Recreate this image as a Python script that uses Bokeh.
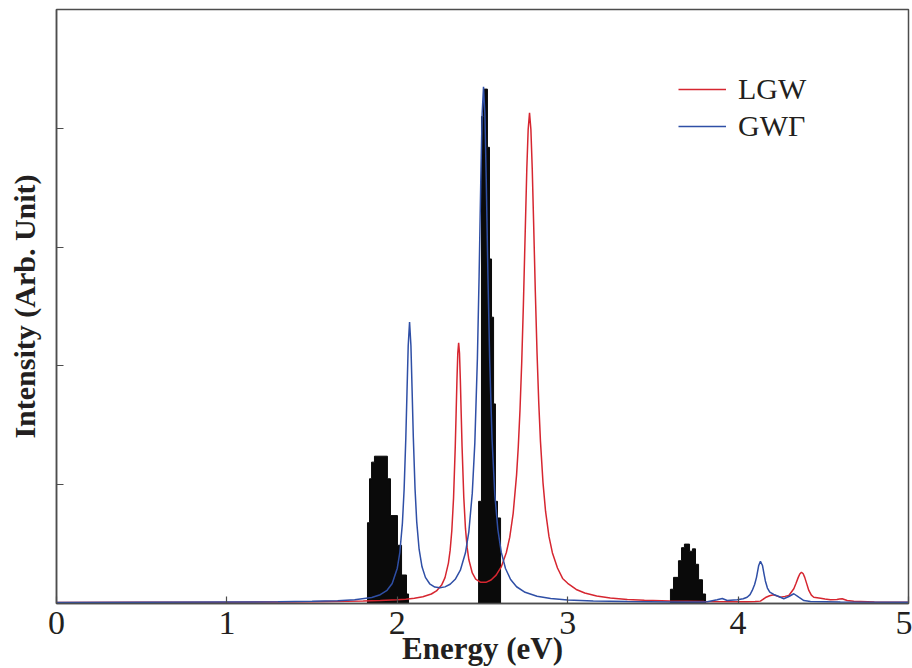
from bokeh.plotting import figure
from bokeh.models import FixedTicker, Range1d, Legend, LegendItem
from bokeh.embed import file_html
from bokeh.resources import INLINE

# ---------------- data ----------------
x_ticks = [0, 1, 2, 3, 4, 5]
y_ticks = [1, 2, 3, 4]
series_labels = ["LGW", "GWΓ"]

# LGW curve (energy eV, intensity arb. unit)
lgw_energy = [0.0, 0.5, 1.0, 1.3, 1.5, 1.7, 1.8, 1.9, 2.0, 2.05, 2.1, 2.15, 2.2, 2.23, 2.26,
              2.28, 2.3, 2.31, 2.32, 2.33, 2.34, 2.345, 2.35, 2.355, 2.36, 2.365, 2.37,
              2.375, 2.38, 2.39, 2.40, 2.41, 2.42, 2.44, 2.46, 2.49, 2.52, 2.55, 2.58, 2.61,
              2.64, 2.66, 2.68, 2.70, 2.71, 2.72, 2.73, 2.74, 2.75, 2.76, 2.768, 2.776,
              2.784, 2.792, 2.80, 2.81, 2.82, 2.83, 2.84, 2.855, 2.87, 2.89, 2.91, 2.94,
              2.97, 3.0, 3.05, 3.1, 3.17, 3.25, 3.35, 3.45, 3.6, 3.8, 4.0, 4.05, 4.10,
              4.131, 4.161, 4.185, 4.209, 4.23, 4.249, 4.275, 4.298, 4.327, 4.34, 4.353,
              4.362, 4.372, 4.382, 4.391, 4.403, 4.415, 4.43, 4.444, 4.484, 4.51, 4.542,
              4.58, 4.595, 4.611, 4.64, 4.679, 4.8, 5.0]
lgw_intensity = [0.009, 0.010, 0.011, 0.013, 0.015, 0.018, 0.021, 0.025, 0.031, 0.036, 0.044,
                 0.057, 0.080, 0.106, 0.155, 0.218, 0.340, 0.447, 0.614, 0.885, 1.314,
                 1.591, 1.877, 2.106, 2.195, 2.108, 1.882, 1.598, 1.323, 0.898, 0.632, 0.470,
                 0.368, 0.257, 0.206, 0.178, 0.178, 0.198, 0.239, 0.308, 0.429, 0.558, 0.759,
                 1.083, 1.319, 1.627, 2.022, 2.517, 3.090, 3.656, 3.990, 4.130, 3.990, 3.655,
                 3.206, 2.624, 2.110, 1.694, 1.369, 1.018, 0.777, 0.565, 0.428, 0.299, 0.211,
                 0.170, 0.118, 0.088, 0.063, 0.046, 0.034, 0.027, 0.021, 0.0165, 0.014,
                 0.014, 0.016, 0.020, 0.050, 0.065, 0.073, 0.062, 0.053, 0.060, 0.067, 0.124,
                 0.170, 0.220, 0.248, 0.263, 0.250, 0.220, 0.165, 0.110, 0.070, 0.053, 0.045,
                 0.038, 0.031, 0.033, 0.038, 0.040, 0.025, 0.019, 0.013, 0.011]

# GWΓ curve
gwg_energy = [0.0, 0.5, 1.0, 1.3, 1.5, 1.65, 1.75, 1.85, 1.9, 1.94, 1.97, 2.0, 2.015, 2.03,
              2.04, 2.05, 2.057, 2.064, 2.072, 2.08, 2.087, 2.094, 2.104, 2.114, 2.128,
              2.145, 2.165, 2.19, 2.22, 2.25, 2.28, 2.31, 2.34, 2.37, 2.4, 2.42, 2.44,
              2.455, 2.47, 2.48, 2.49, 2.498, 2.506, 2.514, 2.522, 2.532, 2.542, 2.556,
              2.572, 2.59, 2.61, 2.635, 2.665, 2.70, 2.75, 2.82, 2.9, 3.0, 3.15, 3.35, 3.6,
              3.8, 3.819, 3.877, 3.907, 3.936, 3.995, 4.03, 4.053, 4.07, 4.083, 4.097,
              4.108, 4.121, 4.131, 4.143, 4.152, 4.160, 4.172, 4.186, 4.209, 4.239, 4.268,
              4.298, 4.327, 4.356, 4.386, 4.425, 4.6, 5.0]
gwg_intensity = [0.009, 0.010, 0.012, 0.014, 0.018, 0.024, 0.032, 0.051, 0.074, 0.111, 0.168,
                 0.297, 0.431, 0.677, 0.960, 1.393, 1.785, 2.167, 2.370, 2.169, 1.789, 1.399,
                 0.968, 0.687, 0.457, 0.309, 0.220, 0.166, 0.138, 0.132, 0.140, 0.162, 0.204,
                 0.280, 0.427, 0.606, 0.929, 1.352, 2.061, 2.752, 3.565, 4.124, 4.350, 4.123,
                 3.564, 2.750, 2.058, 1.385, 0.923, 0.624, 0.432, 0.295, 0.202, 0.141, 0.094,
                 0.061, 0.042, 0.030, 0.021, 0.016, 0.013, 0.012, 0.015, 0.031, 0.042, 0.025,
                 0.031, 0.040, 0.053, 0.075, 0.110, 0.160, 0.220, 0.320, 0.356, 0.320, 0.250,
                 0.190, 0.130, 0.095, 0.076, 0.059, 0.040, 0.059, 0.082, 0.053, 0.025, 0.017,
                 0.012, 0.010]

# experimental (black) spectra as stepped bins: bin edges (eV) and heights
exp1_edges = [1.825, 1.837, 1.849, 1.866, 1.942, 1.960, 2.001, 2.025, 2.054, 2.066]
exp1_heights = [0.68, 1.05, 1.19, 1.24, 1.05, 0.74, 0.49, 0.24, 0.08]

exp2_edges = [2.477, 2.494, 2.506, 2.529, 2.541, 2.553, 2.565, 2.576, 2.588, 2.606]
exp2_heights = [0.86, 4.10, 4.33, 3.84, 2.90, 2.41, 1.68, 0.86, 0.72]

exp3_edges = [3.603, 3.621, 3.650, 3.668, 3.685, 3.715, 3.732, 3.750, 3.768, 3.791, 3.809]
exp3_heights = [0.12, 0.22, 0.36, 0.47, 0.50, 0.44, 0.46, 0.33, 0.20, 0.08]

# ---------------- figure ----------------
RED = "#d62630"
BLUE = "#2f4fa6"
TXT = "#231f20"
FRAME = "#4d4d4d"
SERIF = "Liberation Serif"

p = figure(width=912, height=668, output_backend="svg", toolbar_location=None,
           x_range=Range1d(0, 5), y_range=Range1d(0, 5),
           min_border_left=56, min_border_right=4, min_border_top=9, min_border_bottom=65)
p.grid.visible = False
p.background_fill_color = "white"
p.border_fill_color = "white"
p.outline_line_color = FRAME
p.outline_line_width = 1.5


def step_outline(edges, heights):
    xs, ys = [edges[0]], [0]
    for i, h in enumerate(heights):
        xs += [edges[i], edges[i + 1]]
        ys += [h, h]
    xs.append(edges[-1])
    ys.append(0)
    return xs, ys


for edges, heights in [(exp1_edges, exp1_heights), (exp2_edges, exp2_heights),
                       (exp3_edges, exp3_heights)]:
    sx, sy = step_outline(edges, heights)
    p.patch(sx, sy, fill_color="#0a0a0a", line_color="#0a0a0a", line_width=1)

r_red = p.line(lgw_energy, lgw_intensity, line_color=RED, line_width=1.5)
r_blue = p.line(gwg_energy, gwg_intensity, line_color=BLUE, line_width=1.5)

# axes
for ax in (p.xaxis[0], p.yaxis[0]):
    ax.axis_line_color = FRAME
    ax.axis_line_width = 1.5
    ax.major_tick_line_color = FRAME
    ax.major_tick_line_width = 1.2
    ax.major_tick_in = 7
    ax.major_tick_out = 0
    ax.minor_tick_line_color = None
    ax.axis_label_text_font = SERIF
    ax.axis_label_text_font_style = "bold"
    ax.axis_label_text_color = TXT
    ax.major_label_text_font = SERIF
    ax.major_label_text_color = TXT

p.xaxis.ticker = FixedTicker(ticks=x_ticks)
p.xaxis.major_label_text_font_size = "34px"
p.xaxis.major_label_standoff = 8
p.xaxis.axis_label = "Energy (eV)"
p.xaxis.axis_label_text_font_size = "31px"
p.xaxis.axis_label_standoff = -6

p.yaxis.ticker = FixedTicker(ticks=y_ticks)
p.yaxis.major_label_text_font_size = "0px"
p.yaxis.major_label_standoff = 0
p.yaxis.axis_label = "Intensity (Arb. Unit)"
p.yaxis.axis_label_text_font_size = "30px"
p.yaxis.axis_label_standoff = 16

legend = Legend(items=[LegendItem(label=series_labels[0], renderers=[r_red]),
                       LegendItem(label=series_labels[1], renderers=[r_blue])],
                location=(622, 460))
legend.label_text_font = SERIF
legend.label_text_font_size = "30px"
legend.label_text_color = TXT
legend.glyph_width = 48
legend.glyph_height = 34
legend.label_height = 34
legend.label_standoff = 12
legend.spacing = 3
legend.padding = 0
legend.margin = 0
legend.border_line_color = None
legend.background_fill_alpha = 0
p.add_layout(legend)

open("out.html", "w").write(file_html(p, INLINE))
